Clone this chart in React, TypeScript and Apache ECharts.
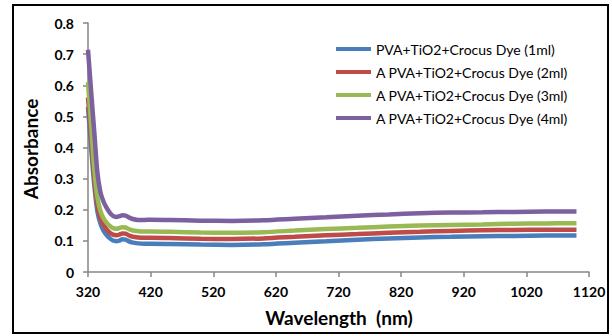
import React, { useEffect, useRef } from "react";
import * as echarts from "echarts";

const wavelengths = [320, 325, 330, 335, 340, 345, 350, 355, 360, 365, 370, 375, 380, 385, 390, 400, 410, 420, 450, 500, 550, 600, 650, 700, 750, 800, 850, 900, 950, 1000, 1050, 1100];

const dye1ml = [0.53, 0.4, 0.28, 0.195, 0.155, 0.132, 0.118, 0.108, 0.101, 0.099, 0.101, 0.105, 0.104, 0.099, 0.095, 0.092, 0.091, 0.091, 0.09, 0.088, 0.087, 0.089, 0.094, 0.099, 0.104, 0.108, 0.111, 0.113, 0.115, 0.116, 0.117, 0.117];
const dye2ml = [0.56, 0.43, 0.3, 0.215, 0.172, 0.15, 0.136, 0.126, 0.12, 0.118, 0.12, 0.124, 0.123, 0.118, 0.114, 0.111, 0.11, 0.11, 0.109, 0.107, 0.106, 0.108, 0.113, 0.118, 0.122, 0.126, 0.129, 0.132, 0.134, 0.135, 0.136, 0.136];
const dye3ml = [0.61, 0.47, 0.33, 0.24, 0.195, 0.172, 0.158, 0.148, 0.141, 0.139, 0.141, 0.144, 0.143, 0.138, 0.134, 0.131, 0.13, 0.13, 0.129, 0.127, 0.126, 0.128, 0.133, 0.138, 0.142, 0.146, 0.149, 0.151, 0.153, 0.155, 0.156, 0.157];
const dye4ml = [0.714, 0.58, 0.45, 0.32, 0.255, 0.225, 0.205, 0.19, 0.18, 0.177, 0.179, 0.182, 0.181, 0.176, 0.171, 0.167, 0.167, 0.168, 0.167, 0.165, 0.164, 0.166, 0.171, 0.176, 0.181, 0.185, 0.189, 0.191, 0.192, 0.193, 0.194, 0.194];

const seriesNames = [
  "PVA+TiO2+Crocus Dye (1ml)",
  "A PVA+TiO2+Crocus Dye (2ml)",
  "A PVA+TiO2+Crocus Dye (3ml)",
  "A PVA+TiO2+Crocus Dye (4ml)",
];
const seriesColors = ["#4A7EBB", "#BE4B48", "#98B954", "#7D60A0"];
const xTicks = [320, 420, 520, 620, 720, 820, 920, 1020, 1120];

const FONT = "Lato, 'Noto Sans', sans-serif";

export default function App() {
  const ref = useRef<HTMLDivElement>(null);
  useEffect(() => {
    document.body.style.margin = "0";
    if (!ref.current) return;
    const chart = echarts.init(ref.current, undefined, { renderer: "svg" });
    const all = [dye1ml, dye2ml, dye3ml, dye4ml];
    chart.setOption({
      animation: false,
      backgroundColor: "#fff",
      grid: { left: 88, top: 23, right: 23, bottom: 64 },
      xAxis: {
        type: "value",
        min: 320,
        max: 1120,
        axisLine: { show: true, lineStyle: { color: "#868686", width: 1.5 } },
        axisTick: { show: true, length: 5, lineStyle: { color: "#868686", width: 1.5 }, customValues: xTicks },
        axisLabel: {
          customValues: xTicks,
          margin: 12,
          color: "#000",
          fontWeight: "bold",
          fontSize: 14,
          fontFamily: FONT,
          formatter: (v: number) => String(v),
        },
        splitLine: { show: false },
      },
      yAxis: {
        type: "value",
        min: 0,
        max: 0.8,
        interval: 0.1,
        axisLine: { show: true, lineStyle: { color: "#868686", width: 1.5 } },
        axisTick: { show: true, length: 5, lineStyle: { color: "#868686", width: 1.5 } },
        axisLabel: {
          margin: 14,
          color: "#000",
          fontWeight: "bold",
          fontSize: 14,
          fontFamily: FONT,
          formatter: (v: number) => (v === 0 ? "0" : v.toFixed(1)),
        },
        splitLine: { show: false },
      },
      legend: {
        orient: "vertical",
        left: 331,
        top: 37,
        itemWidth: 35,
        itemHeight: 4,
        itemGap: 9,
        icon: "rect",
        data: seriesNames,
        textStyle: { fontSize: 14, lineHeight: 14, color: "#000", fontFamily: FONT },
      },
      series: all.map((vals, i) => ({
        name: seriesNames[i],
        type: "line",
        data: wavelengths.map((w, j) => [w, vals[j]]),
        showSymbol: false,
        smooth: 0.3,
        color: seriesColors[i],
        lineStyle: { width: 4.5, color: seriesColors[i] },
        z: 2 + i,
      })),
      graphic: [
        {
          type: "rect",
          shape: { x: 13, y: 5, width: 595, height: 328 },
          style: { fill: "none", stroke: "#000", lineWidth: 2 },
          silent: true,
        },
        {
          type: "text",
          x: 339,
          y: 317,
          style: {
            text: "Wavelength  (nm)",
            fontSize: 19,
            fontWeight: "bold",
            fontFamily: FONT,
            fill: "#000",
            align: "center",
            verticalAlign: "middle",
          },
        },
        {
          type: "text",
          x: 30,
          y: 149,
          rotation: Math.PI / 2,
          style: {
            text: "Absorbance",
            fontSize: 19,
            fontWeight: "bold",
            fontFamily: FONT,
            fill: "#000",
            align: "center",
            verticalAlign: "middle",
          },
        },
      ],
    });
    return () => chart.dispose();
  }, []);
  return <div ref={ref} style={{ width: 612, height: 336 }} />;
}
